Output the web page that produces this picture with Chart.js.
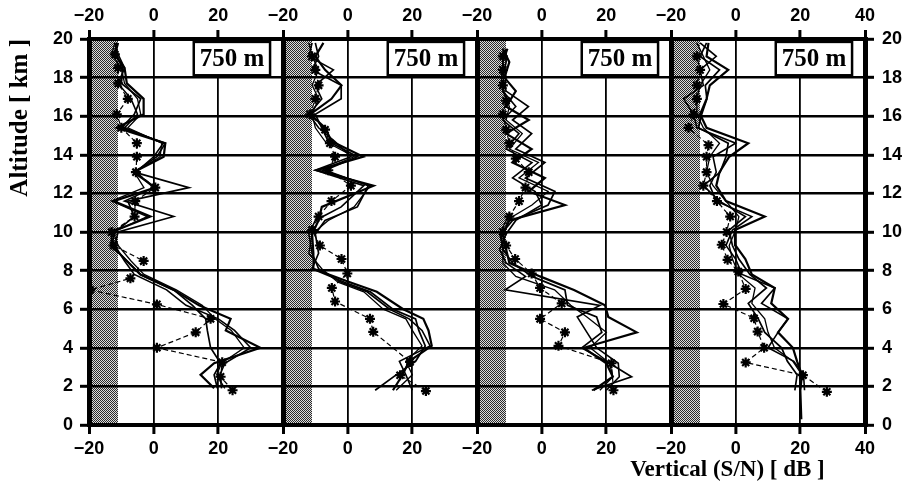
<!DOCTYPE html>
<html>
<head>
<meta charset="utf-8">
<script src="https://cdn.jsdelivr.net/npm/chart.js@4.4.1/dist/chart.umd.min.js"></script>
<style>
html, body { margin: 0; padding: 0; background: #fff; }
#wrap { width: 907px; height: 488px; position: relative; }
</style>
</head>
<body>
<div id="wrap"><canvas id="chart"></canvas></div>
<script>
// altitude levels [km] and S/N values [dB]
const p1Alt = [1.9, 2.6, 3.2, 4.0, 4.9, 5.5, 6.2, 7.0, 7.8, 8.5, 9.3, 10.0, 10.8, 11.6, 12.3, 13.1, 13.9, 14.6, 15.4, 16.1, 16.9, 17.7, 18.5, 19.2, 19.8];
const p1a = [18.7, 14.5, 18.7, 33.0, 22.3, 23.8, 14, 6.2, -4.1, -8.3, -13, -13, -1.0, -12.4, 0.5, -6.2, 3.1, 3.6, -11.4, -3.1, -3.1, -8.3, -9, -12, -11];
const p1b = [19.7, 18.7, 20.7, 17.6, 16.6, 16.1, 12, 6.2, -4.1, -8.3, -13, -12, -6, -8, 10.9, -6, 1, 3.6, -10, -6, -4, -10, -9.5, -12, -11.5];
const p1c = [21, 20.5, 22, 30, 25, 20, 10, 4, -6, -9, -12, -11, 6.2, -9, 0, -5.5, 0, 3, -9, -5, -7, -11, -9, -11, -12];
const p1d = [22, 19.5, 21, 28, 24, 19, 15, 7, -3, -7, -11, -12.5, -2, -13, -3, -6, 2, 2.5, -8, -4, -5, -9, -10, -13, -12];
const p1StarAlt = [1.8, 2.5, 3.25, 4.0, 4.8, 5.5, 6.25, 7.0, 7.6, 8.5, 9.3, 10.0, 10.8, 11.6, 12.3, 13.1, 13.9, 14.6, 15.4, 16.1, 16.9, 17.7, 18.5, 19.2];
const p1Star = [24.4, 20.7, 21.2, 1.0, 13, 17.6, 1.0, -19.7, -7.2, -3.1, -12.4, -13, -5.9, -5.7, 0.5, -5.5, -5.2, -5.2, -10, -11.4, -8, -11, -11, -12];

const p2Alt = [1.8, 2.6, 3.3, 4.1, 4.9, 5.5, 6.0, 6.9, 7.4, 8.1, 8.9, 9.9, 10.6, 11.3, 12.4, 13.2, 13.9, 14.7, 15.4, 16.1, 16.9, 17.6, 18.4, 19.1, 19.8];
const p2a = [14, 17, 19, 26, 25, 23.4, 17.2, 9, 0.7, -10.6, -10.6, -11, -9, -8, 8, -9.6, 4.8, -5, -7, -11.6, -5, -1.9, -7, -10, -7.5];
const p2b = [8.5, 15, 21, 24, 22, 21, 14, 7, -1, -11, -9, -10, -7, 3, 6.4, -7, 3, -6, -8, -10, -2, -2, -11, -9, -10];
const p2c = [20, 18, 16, 25.5, 23, 19, 13, 6, -2, -9, -11, -12, -10, -2, 5, -10, 1, -4, -9, -12, -8, -10, -4.4, -12, -11];
const p2d = [15, 20, 18, 23, 20, 18, 11, 5, -3, -8, -12, -11, -6, 2, 7, -8, 2, -7, -10, -11, -9, -11, -9, -11, -12];
const p2StarAlt = [1.76, 2.58, 3.27, 4.83, 5.5, 6.4, 7.1, 7.85, 8.6, 9.3, 10.1, 10.8, 11.6, 12.4, 13.2, 13.9, 14.6, 15.3, 16.1, 16.9, 17.6, 18.4, 19.1];
const p2Star = [24.2, 16.2, 19.3, 7.9, 6.9, -3.9, -4.9, -0.1, -1.9, -8.6, -11, -9, -5, 1, -6, -3.9, -5.5, -7, -11.6, -10, -9, -10, -11];

const p3Alt = [1.8, 2.5, 3.2, 4.0, 4.8, 5.6, 6.2, 7.0, 7.7, 8.4, 9.1, 9.9, 10.6, 11.4, 12.1, 12.8, 13.6, 14.3, 15.1, 15.8, 16.5, 17.3, 18.0, 18.8, 19.5];
const p3a = [16, 22, 20, 13, 29.4, 20.6, 19.6, 10, -0.5, -10, -11, -12, -10, 7.2, -4, 1, -9, -3.1, -11, -4, -11, -8, -11.5, -10, -12];
const p3b = [15.5, 27.8, 21, 12.4, 18.6, 17, 8, 7.2, -3, -9, -12, -12.5, -9, 2, 4.1, -5, 1, -8, -3.1, -9, -4.1, -11, -12, -11, -11];
const p3c = [20, 24, 23.7, 17, 14, 11, 18, -11.3, -5, -11, -13, -11, -8, 0, -2, -9, -3, -11, -7, -12, -8, -12, -11, -12, -10.5];
const p3d = [18, 22, 21, 15, 20, 14, 9, 4, -8, -12, -12, -13, -11, -3, 2, -7, -1, -10, -6, -11, -10, -12, -12.5, -12, -11];
const p3StarAlt = [1.8, 3.2, 4.1, 4.8, 5.5, 6.3, 7.1, 7.85, 8.6, 9.3, 10.0, 10.8, 11.6, 12.3, 13.1, 13.8, 14.6, 15.3, 16.1, 16.8, 17.6, 18.4, 19.1];
const p3Star = [22.2, 21.6, 5.2, 7.2, -0.5, 6.2, -0.5, -3.1, -8.2, -11, -12, -10, -7, -5, -4, -8, -10, -11, -12, -11, -12, -12, -12];

const p4Alt = [0.3, 1.8, 2.6, 3.3, 4.0, 4.8, 5.5, 6.3, 7.1, 7.8, 8.6, 9.3, 10.1, 10.8, 11.6, 12.4, 13.1, 13.9, 14.6, 15.4, 16.1, 16.9, 17.6, 18.4, 19.1, 19.8];
const p4a = [20.3, 20, 20.5, 19, 17.7, 13.1, 16.2, 11, 12.1, 5, 3, 0, -0.2, 9, -3, -6, -5, -2, 3.9, -9, -11, -9, -8, -2.3, -9, -8.4];
const p4b = [null, 18.3, 19, 16, 14.2, 9, 7, 3.9, 9.5, 4.4, 1, -1, -2, 3, -5, -10, -4.8, -3, -2.3, -11.5, -10.5, -8.9, -9.4, -5, -11, -9];
const p4c = [null, 21.3, 21, 18, 10, 13.1, 16.2, 8, 12.1, 2, 0, -3, -1, 5, -6, -8, -6, -7, 0, -12, -13, -16.1, -10, -11, -6, -11];
const p4d = [null, 20, 20.5, 17.7, 12, 10, 9, 5, 6, 1, -1, -2, 0, 1, -3, -7, -9, -8, -5, -10, -12, -12, -11, -8, -10, -12];
const p4StarAlt = [1.72, 2.58, 3.24, 4.0, 4.84, 5.53, 6.27, 7.05, 7.95, 8.56, 9.34, 10.0, 10.8, 11.6, 12.4, 13.1, 13.9, 14.5, 15.4, 16.1, 16.9, 17.6, 18.4, 19.1];
const p4Star = [28.2, 20.8, 3.1, 8.8, 6.8, 5.7, -3.8, 3.1, 0.8, -2.5, -4.3, -2.8, -1.7, -5.8, -10, -9, -9, -8.4, -14.6, -13, -12, -12, -11, -12];

const panelLabel = '750 m';
const noiseBand = [-20, -11];   // shaded noise floor [dB]
const altTicks = [0, 20];       // km range
const dbRange = [-20, 40];      // dB range of one panel

const panels = [
    {alt: p1Alt, lines: [p1a, p1b, p1c, p1d], starAlt: p1StarAlt, star: p1Star},
    {alt: p2Alt, lines: [p2a, p2b, p2c, p2d], starAlt: p2StarAlt, star: p2Star},
    {alt: p3Alt, lines: [p3a, p3b, p3c, p3d], starAlt: p3StarAlt, star: p3Star},
    {alt: p4Alt, lines: [p4a, p4b, p4c, p4d], starAlt: p4StarAlt, star: p4Star}
];

const SPAN = dbRange[1] - dbRange[0];
const X_MAX = dbRange[0] + SPAN * panels.length;
const lineWidths = [2.2, 1.7, 1.6, 1.3];

function points(alts, vals, offset) {
    const out = [];
    alts.forEach((a, i) => {
        if (vals[i] !== null) out.push({x: vals[i] + offset, y: a});
    });
    return out;
}

const datasets = [];
panels.forEach((p, k) => {
    const off = k * SPAN;
    p.lines.forEach((vals, j) => {
        datasets.push({
            data: points(p.alt, vals, off),
            showLine: true,
            borderColor: '#000',
            borderWidth: lineWidths[j],
            pointRadius: 0,
            tension: 0
        });
    });
    datasets.push({
        data: points(p.starAlt, p.star, off),
        showLine: true,
        borderColor: '#000',
        borderWidth: 1.2,
        borderDash: [5, 3],
        pointStyle: 'star',
        pointRadius: 5,
        pointBorderWidth: 2.2,
        pointBackgroundColor: '#000',
        pointBorderColor: '#000'
    });
});

// dithered grey like the printed shading
const pat = document.createElement('canvas');
pat.width = 2; pat.height = 2;
const pctx = pat.getContext('2d');
pctx.fillStyle = '#dcdcdc';
pctx.fillRect(0, 0, 2, 2);
pctx.fillStyle = '#2a2a2a';
pctx.fillRect(0, 0, 1, 1);
pctx.fillRect(1, 1, 1, 1);

const panelPlugin = {
    id: 'panelDecor',
    beforeDraw(chart) {
        const {ctx, scales} = chart;
        const x = scales.x, y = scales.y;
        ctx.save();
        ctx.imageSmoothingEnabled = false;
        ctx.fillStyle = ctx.createPattern(pat, 'repeat');
        const yTop = Math.round(y.getPixelForValue(altTicks[1]));
        const yBot = Math.round(y.getPixelForValue(altTicks[0]));
        for (let k = 0; k < panels.length; k++) {
            const x0 = Math.round(x.getPixelForValue(noiseBand[0] + k * SPAN));
            const x1 = Math.round(x.getPixelForValue(noiseBand[1] + k * SPAN));
            ctx.fillRect(x0, yTop, x1 - x0, yBot - yTop);
        }
        ctx.restore();
    },
    afterDatasetsDraw(chart) {
        const {ctx, scales} = chart;
        const x = scales.x, y = scales.y;
        ctx.save();
        for (let k = 0; k < panels.length; k++) {
            const x0 = x.getPixelForValue(12.4 + k * SPAN);
            const x1 = x.getPixelForValue(36 + k * SPAN);
            const y0 = y.getPixelForValue(19.85);
            const y1 = y.getPixelForValue(18.12);
            ctx.fillStyle = '#fff';
            ctx.fillRect(x0, y0, x1 - x0, y1 - y0);
            ctx.strokeStyle = '#000';
            ctx.lineWidth = 2.5;
            ctx.strokeRect(x0, y0, x1 - x0, y1 - y0);
            ctx.fillStyle = '#000';
            ctx.font = 'bold 25px "Liberation Serif"';
            ctx.textAlign = 'center';
            ctx.textBaseline = 'middle';
            ctx.fillText(panelLabel, (x0 + x1) / 2, (y0 + y1) / 2 + 1);
        }
        ctx.restore();
    }
};

const tickFont = {family: 'Liberation Sans', weight: 'bold', size: 18};
const titleFont = {family: 'Liberation Serif', weight: 'bold', size: 23};
const yTitleFont = {family: 'Liberation Serif', weight: 'bold', size: 25};

function dbLabel(v) {
    if (v === X_MAX) return '40';
    const r = ((v - dbRange[0]) % SPAN) + dbRange[0];
    return r < 0 ? '\u2212' + Math.abs(r) : String(r);
}

function vLineWidth(ctx) {
    const v = ctx.tick ? ctx.tick.value : 0;
    return ((v - dbRange[0]) % SPAN === 0) ? 5 : 1.8;
}

function xAxis(pos, height, title) {
    return {
        type: 'linear',
        position: pos,
        min: dbRange[0],
        max: X_MAX,
        afterFit: (s) => { s.height = height; },
        ticks: {stepSize: 20, autoSkip: false, maxRotation: 0, padding: pos === 'top' ? 3 : 4, color: '#000', font: tickFont, callback: dbLabel},
        grid: {color: '#000', lineWidth: vLineWidth, drawOnChartArea: pos === 'bottom', tickLength: 9, tickWidth: 3, tickColor: '#000'},
        border: {color: '#000', width: 4},
        title: title
    };
}

function yAxis(pos, width, title) {
    return {
        type: 'linear',
        position: pos,
        min: altTicks[0],
        max: altTicks[1],
        afterFit: (s) => { s.width = width; },
        ticks: {stepSize: 2, autoSkip: false, padding: pos === 'left' ? 7 : 8, color: '#000', font: tickFont},
        grid: {color: '#000', lineWidth: 2.6, drawOnChartArea: pos === 'left', tickLength: 9, tickWidth: 3, tickColor: '#000'},
        border: {color: '#000', width: 4},
        title: title
    };
}

const config = {
    type: 'scatter',
    data: {datasets: datasets},
    options: {
        responsive: true,
        maintainAspectRatio: false,
        animation: false,
        layout: {padding: 0},
        plugins: {legend: {display: false}, tooltip: {enabled: false}},
        scales: {
            x: xAxis('bottom', 63, {display: true, text: 'Vertical (S/N) [ dB ]' + '\u00a0'.repeat(7), align: 'end', color: '#000', font: titleFont, padding: {top: 0, bottom: 4}}),
            xTop: xAxis('top', 39, {display: false}),
            y: yAxis('left', 89, {display: true, text: 'Altitude [ km ]', align: 'end', color: '#000', font: yTitleFont, padding: {top: 6, bottom: 0}}),
            yRight: yAxis('right', 42, {display: false})
        }
    },
    plugins: [panelPlugin]
};

const myChart = new Chart(
    document.getElementById('chart'),
    config
);
</script>
</body>
</html>
